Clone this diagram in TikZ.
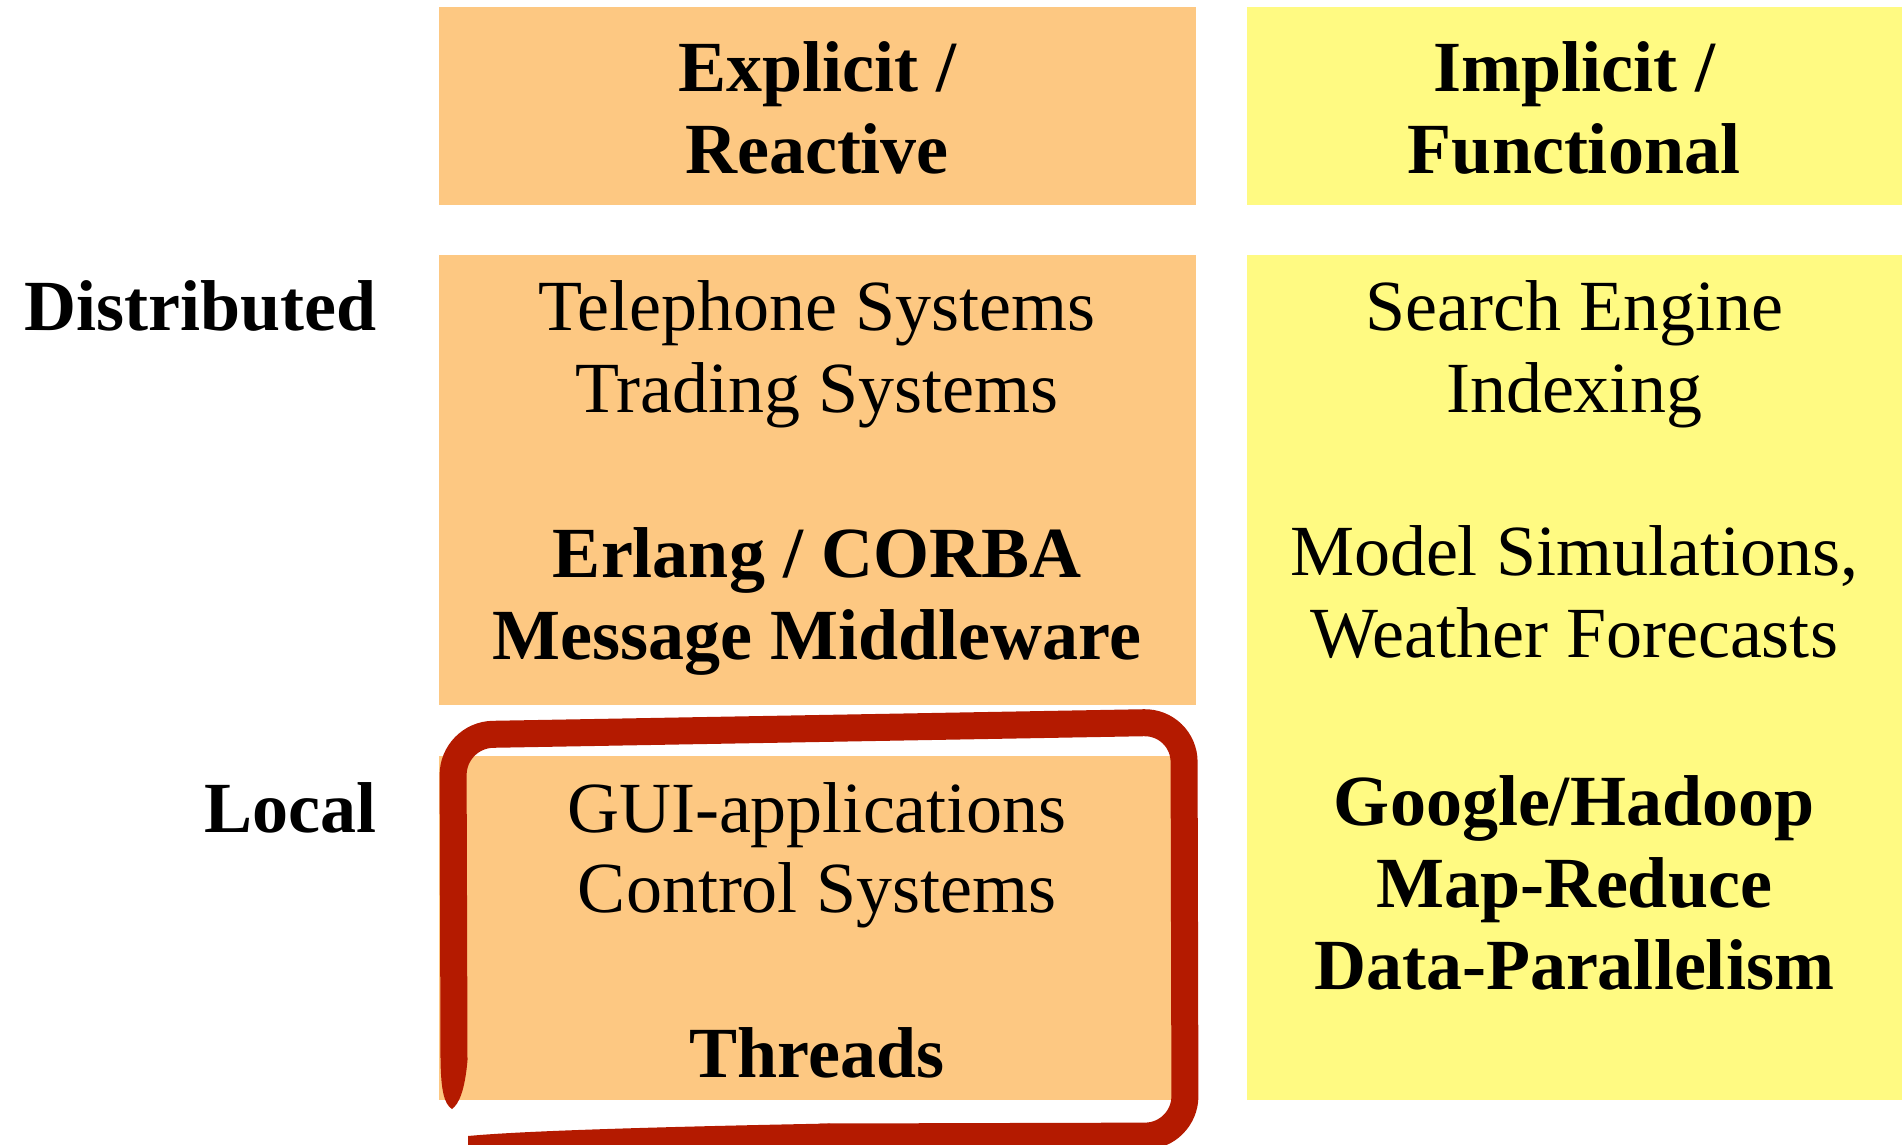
\documentclass[tikz,border=0pt]{standalone}
\usepackage{fontspec}
\setmainfont{Liberation Serif}
\definecolor{paleorange}{RGB}{253,200,130}
\definecolor{paleyellow}{RGB}{255,250,130}
\definecolor{brushred}{RGB}{180,26,0}
\begin{document}
\begin{tikzpicture}[x=1pt,y=-1pt,
  txt/.style={anchor=base, inner sep=0pt, font=\fontsize{72}{82}\selectfont},
  btxt/.style={txt, font=\fontsize{72}{82}\selectfont\bfseries},
  rowlabel/.style={anchor=base east, inner sep=0pt, font=\fontsize{72}{82}\selectfont\bfseries}]
\useasboundingbox (0,0) rectangle (1902,1144);

% column cells
\fill[paleorange] (439,7) rectangle (1196,205);
\fill[paleyellow] (1247,7) rectangle (1902,205);
\fill[paleorange] (439,255) rectangle (1196,705);
\fill[paleorange] (439,756) rectangle (1196,1100);
\fill[paleyellow] (1247,255) rectangle (1902,1100);

% column headers
\node[btxt] (h1a) at (817,91) {Explicit /};
\node[btxt] (h1b) at (817,173) {Reactive};
\node[btxt] (h2a) at (1574,91) {Implicit /};
\node[btxt] (h2b) at (1574,173) {Functional};

% row labels
\node[rowlabel] (rdist) at (377,330) {Distributed};
\node[rowlabel] (rloc) at (377,832) {Local};

% explicit, distributed
\node[txt] (e1) at (817,330) {Telephone Systems};
\node[txt] (e2) at (817,412) {Trading Systems};
\node[btxt] (e3) at (817,577) {Erlang / CORBA};
\node[btxt] (e4) at (817,659) {Message Middleware};

% explicit, local
\node[txt] (l1) at (817,832) {GUI-applications};
\node[txt] (l2) at (817,912) {Control Systems};
\node[btxt] (l3) at (817,1077) {Threads};

% implicit
\node[txt] (i1) at (1574,330) {Search Engine};
\node[txt] (i2) at (1574,412) {Indexing};
\node[txt] (i3) at (1574,575) {Model Simulations,};
\node[txt] (i4) at (1574,657) {Weather Forecasts};
\node[btxt] (i5) at (1574,825) {Google/Hadoop};
\node[btxt] (i6) at (1574,907) {Map-Reduce};
\node[btxt] (i7) at (1574,989) {Data-Parallelism};

% hand-drawn highlight round the local cell
\draw[brushred, line width=27pt, rounded corners=40pt]
  (454,1060) -- (453,735) -- (1184,722) -- (1185,1136) -- (820,1137);
% tapered brush ends
\fill[brushred] (440.5,1060) .. controls (441,1090) and (444,1104) .. (452,1109)
  .. controls (459,1104) and (465,1090) .. (467.5,1060) -- cycle;
\fill[brushred] (830,1123.5) .. controls (650,1127) and (520,1131) .. (468,1136)
  -- (468,1150) -- (830,1150) -- cycle;
\end{tikzpicture}
\end{document}
